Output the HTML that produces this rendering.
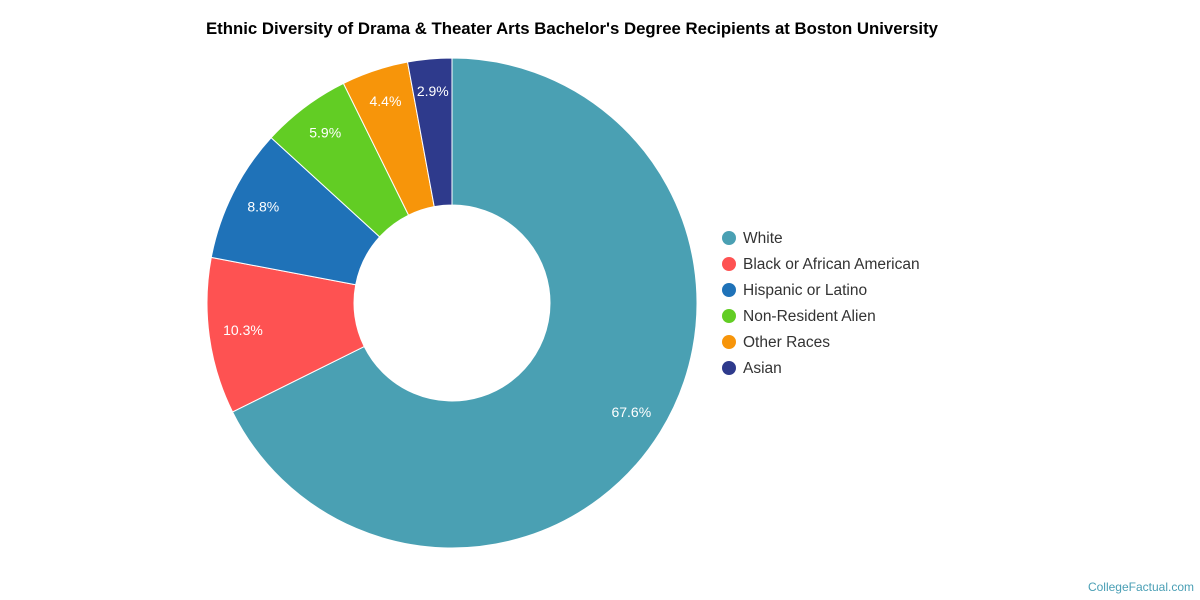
<!DOCTYPE html>
<html><head><meta charset="utf-8"><style>
body{margin:0;background:#fff;font-family:"Liberation Sans",Arial,sans-serif}
svg{display:block}
</style></head><body>
<svg id="chart" width="1200" height="600">
<text x="572" y="34" text-anchor="middle" font-size="16.5" font-weight="bold" fill="#000" textLength="732" lengthAdjust="spacingAndGlyphs">Ethnic Diversity of Drama &amp; Theater Arts Bachelor's Degree Recipients at Boston University</text>
<g id="slices"></g>
<g id="labels"></g>
<g id="legend"></g>
<text x="1194" y="591" text-anchor="end" font-size="12" fill="#4a9fb5">CollegeFactual.com</text>
</svg>
<script>
const categories=["White","Black or African American","Hispanic or Latino","Non-Resident Alien","Other Races","Asian"];
const values=[67.6,10.3,8.8,5.9,4.4,2.9];
const labels=["67.6%","10.3%","8.8%","5.9%","4.4%","2.9%"];
const colors=["#4aa0b3","#fe5252","#1f72b8","#62cd24","#f7950a","#2e3a8c"];
const cx=452,cy=303,R=245,r=98,LR=211;
const NS="http://www.w3.org/2000/svg";
const total=values.reduce((a,b)=>a+b,0);
const gs=document.getElementById('slices'),gl=document.getElementById('labels'),gg=document.getElementById('legend');
function pt(a,rad){return [cx+rad*Math.sin(a),cy-rad*Math.cos(a)];}
let acc=0;
values.forEach((v,i)=>{
 const a0=acc/total*2*Math.PI;acc+=v;const a1=acc/total*2*Math.PI;
 const big=(a1-a0)>Math.PI?1:0;
 const [x0,y0]=pt(a0,R),[x1,y1]=pt(a1,R),[x2,y2]=pt(a1,r),[x3,y3]=pt(a0,r);
 const p=document.createElementNS(NS,'path');
 p.setAttribute('d',`M${x0},${y0}A${R},${R} 0 ${big} 1 ${x1},${y1}L${x2},${y2}A${r},${r} 0 ${big} 0 ${x3},${y3}Z`);
 p.setAttribute('fill',colors[i]);p.setAttribute('stroke','#fff');p.setAttribute('stroke-width','1');
 
 
 gs.appendChild(p);
 const am=(a0+a1)/2;const [lx,ly]=pt(am,LR);
 const t=document.createElementNS(NS,'text');
 t.setAttribute('x',lx);t.setAttribute('y',ly+3);t.setAttribute('text-anchor','middle');
 t.setAttribute('font-size','14');t.setAttribute('fill','#fff');t.textContent=labels[i];
 
 
 gl.appendChild(t);
 const y=238+i*26;
 const c=document.createElementNS(NS,'circle');
 c.setAttribute('cx',729);c.setAttribute('cy',y);c.setAttribute('r',7);c.setAttribute('fill',colors[i]);
 
 
 gg.appendChild(c);
 const lt=document.createElementNS(NS,'text');
 lt.setAttribute('x',743);lt.setAttribute('y',y+5);lt.setAttribute('font-size','15.5');lt.setAttribute('fill','#333');
 lt.textContent=categories[i];
 
 
 gg.appendChild(lt);
});
</script>
</body></html>
